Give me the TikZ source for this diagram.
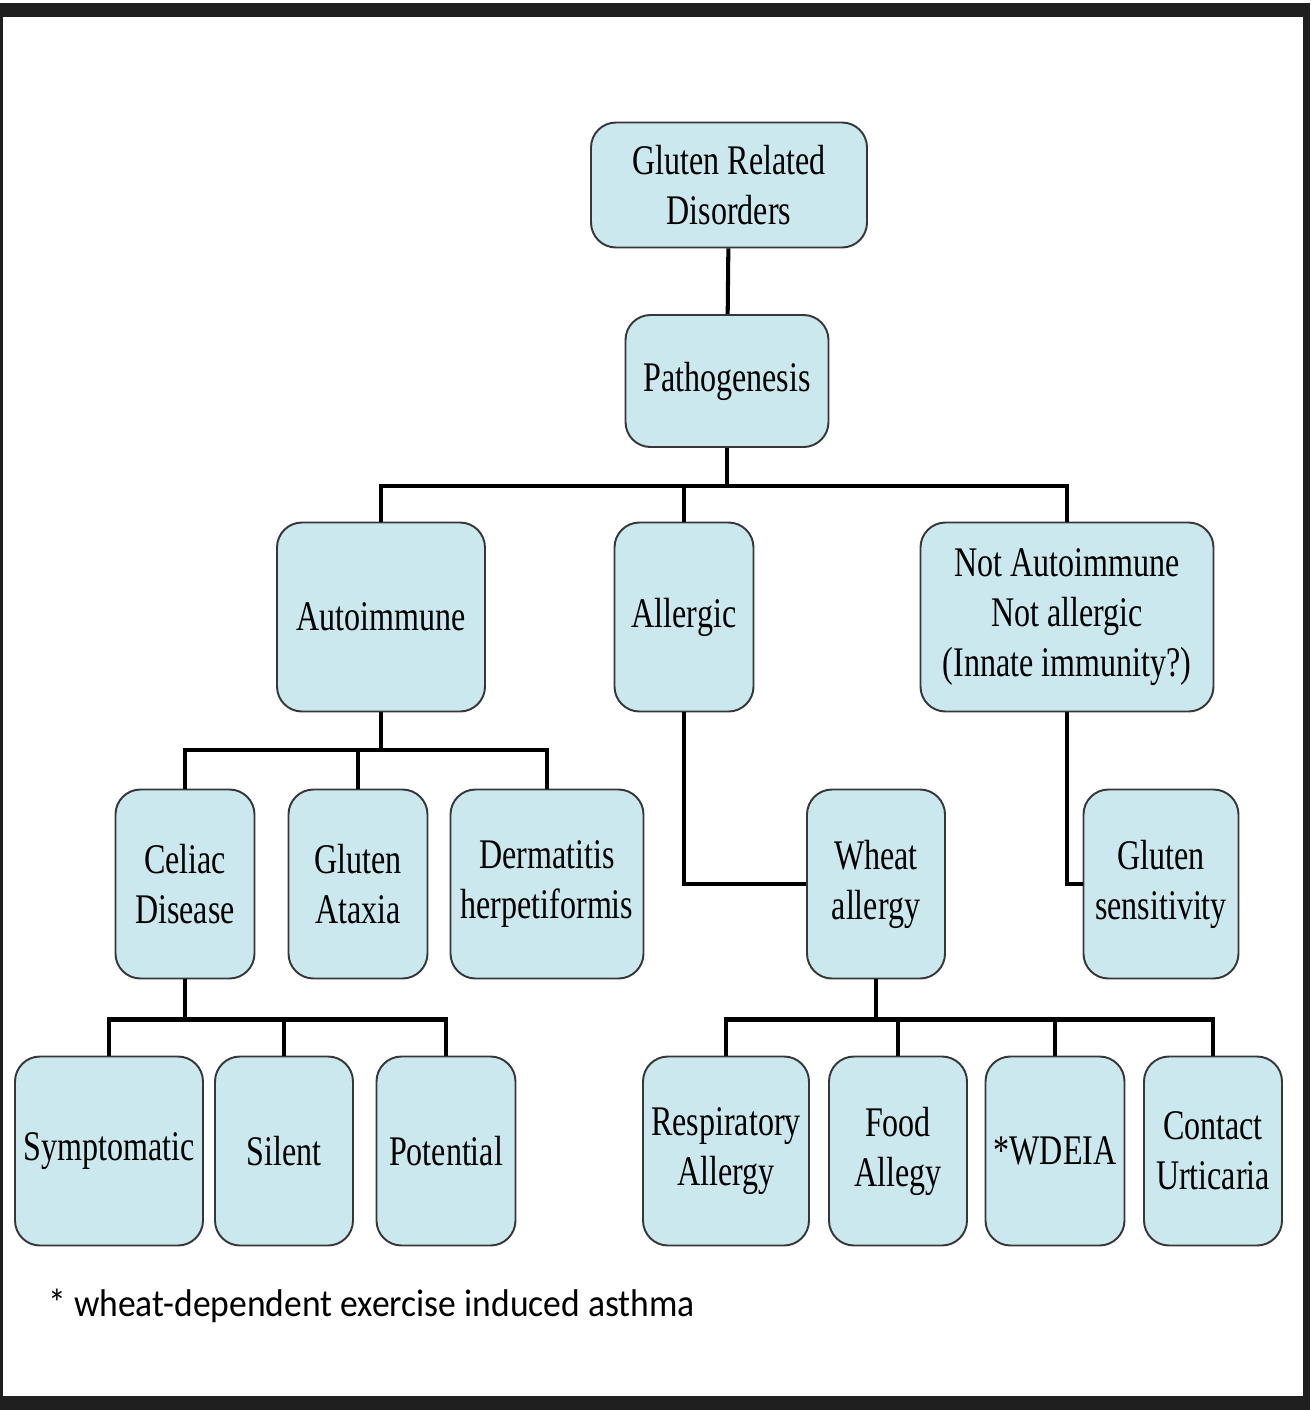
\documentclass[tikz,border=0pt]{standalone}
\usepackage{fontspec}
\setmainfont{Liberation Serif}[FakeStretch=0.76]
\newfontfamily\notefont{Carlito}[FakeStretch=0.92]
\usepackage{tikz}
\usetikzlibrary{positioning,calc}

\definecolor{boxblue}{RGB}{202,232,237}
\definecolor{boxline}{RGB}{55,55,55}

\tikzset{
    gbox/.style={draw=boxline, line width=1.1pt, fill=boxblue, rounded corners=5mm,
        align=center, inner sep=2pt, font=\fontsize{24}{28.5}\selectfont},
    link/.style={line width=2.3pt, black}
}

\begin{document}
\begin{tikzpicture}[x=0.2mm,y=-0.2mm]

                % Frame
                \useasboundingbox (0,0) rectangle (1310,1410);
                \fill[black!88] (0,3) rectangle (1310,1410);
                \fill[white] (3,17) rectangle (1303,1396);

                % Helper: box named #1 centred at (#2,#3), size #4 x #5
                \newcommand{\grdbox}[6]{%
                    \node[gbox, minimum width={#4*0.2mm}, minimum height={#5*0.2mm}] (#1) at (#2,#3) {#6};
                }

                % ---- top ----
                \grdbox{grd}{729}{185}{276}{125}{Gluten Related\\Disorders}
                \grdbox{path}{727}{381}{203}{132}{Pathogenesis}

                % ---- mechanisms ----
                \grdbox{auto}{381}{617}{208}{189}{Autoimmune}
                \grdbox{allerg}{684}{617}{139}{189}{Allergic}
                \grdbox{notai}{1067}{617}{293}{189}{Not Autoimmune\\Not allergic\\(Innate immunity?)}

                % ---- disorders ----
                \grdbox{celiac}{185}{884}{139}{189}{Celiac\\Disease}
                \grdbox{ataxia}{358}{884}{139}{189}{Gluten\\Ataxia}
                \grdbox{derma}{547}{884}{193}{189}{Dermatitis\\herpetiformis}
                \grdbox{wheat}{876}{884}{138}{189}{Wheat\\allergy}
                \grdbox{gsens}{1161}{884}{155}{189}{Gluten\\sensitivity}

                % ---- forms ----
                \grdbox{sympt}{109}{1151}{188}{189}{Symptomatic}
                \grdbox{silent}{284}{1151}{138}{189}{Silent}
                \grdbox{potent}{446}{1151}{139}{189}{Potential}
                \grdbox{resp}{726}{1151}{166}{189}{Respiratory\\Allergy}
                \grdbox{food}{898}{1151}{138}{189}{Food\\Allegy}
                \grdbox{wdeia}{1055}{1151}{139}{189}{*WDEIA}
                \grdbox{contact}{1213}{1151}{138}{189}{Contact\\Urticaria}

                % ---- connectors ----
                \draw[link] (grd) -- (path);
                \foreach \c in {auto,allerg,notai}
                    \draw[link] (path.south) -- ++(0,38) -| (\c.north);
                \foreach \c in {celiac,ataxia,derma}
                    \draw[link] (auto.south) -- ++(0,38) -| (\c.north);
                \foreach \c in {sympt,silent,potent}
                    \draw[link] (celiac.south) -- ++(0,40) -| (\c.north);
                \foreach \c in {resp,food,wdeia,contact}
                    \draw[link] (wheat.south) -- ++(0,40) -| (\c.north);
                \draw[link] (allerg.south) |- (wheat.west);
                \draw[link] (notai.south) |- (gsens.west);

                % Footnote
                \node[anchor=base west, inner sep=0pt, font=\notefont\fontsize{22}{26}\selectfont]
                    (note) at (48,1316) {* wheat-dependent exercise induced asthma};

            \end{tikzpicture}
\end{document}
